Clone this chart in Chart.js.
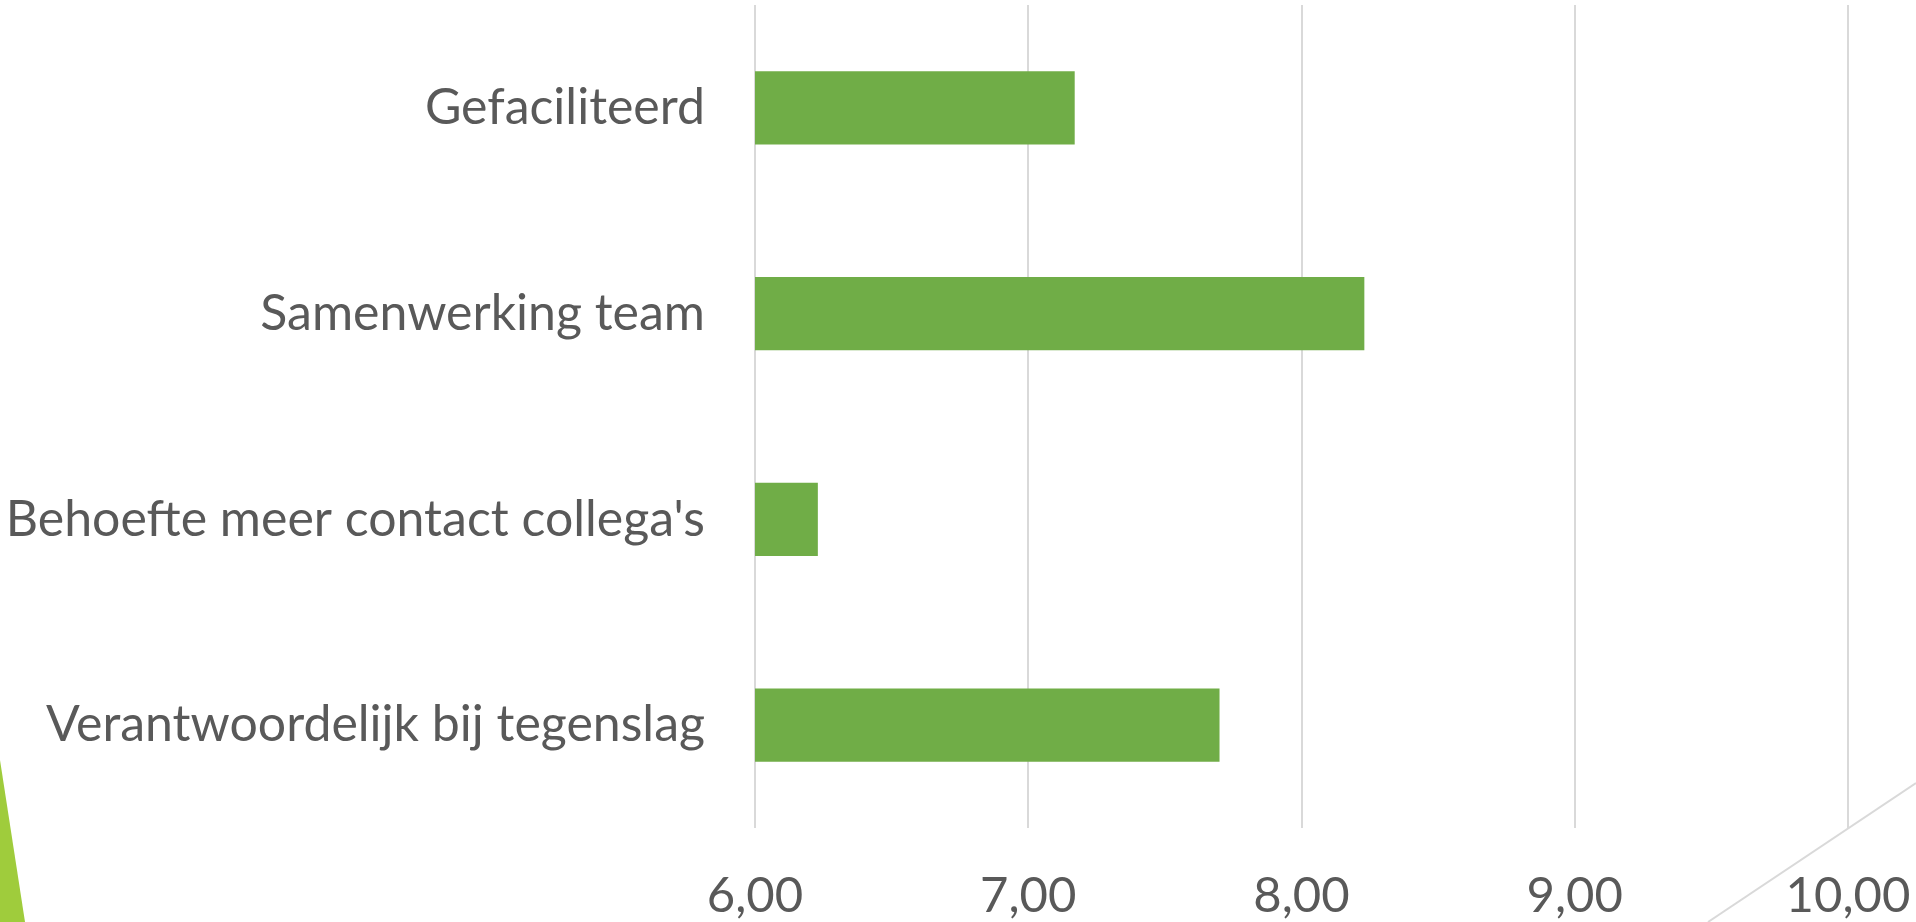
<!DOCTYPE html>
<html>
<head>
<meta charset="utf-8">
<script src="https://cdn.jsdelivr.net/npm/chart.js@4/dist/chart.umd.min.js"></script>
<style>
  html, body { margin: 0; padding: 0; background: #fff; }
  #wrap { width: 1916px; height: 922px; position: relative; }
</style>
</head>
<body>
<div id="wrap"><canvas id="grafico" width="1916" height="922"></canvas></div>
<script>
const categorieen = ['Gefaciliteerd', 'Samenwerking team', "Behoefte meer contact collega's", 'Verantwoordelijk bij tegenslag'];
const scores = [7.17, 8.23, 6.23, 7.70];
const asMin = 6;
const asMax = 10;

// slide decoration: green sliver bottom left, thin diagonal line bottom right
const decoratie = {
  id: 'decoratie',
  beforeDraw(chart) {
    const ctx = chart.ctx;
    ctx.save();
    ctx.fillStyle = '#9fcc3c';
    ctx.beginPath();
    ctx.moveTo(0, 760);
    ctx.lineTo(25, 922);
    ctx.lineTo(0, 922);
    ctx.closePath();
    ctx.fill();
    ctx.restore();
  },
  afterDraw(chart) {
    const ctx = chart.ctx;
    ctx.save();
    ctx.strokeStyle = '#d9d9d9';
    ctx.lineWidth = 2;
    ctx.beginPath();
    ctx.moveTo(1708, 922);
    ctx.lineTo(1916, 783);
    ctx.stroke();
    ctx.restore();
  }
};

const ctx = document.getElementById('grafico').getContext('2d');

new Chart(ctx, {
  type: 'bar',
  data: {
    labels: categorieen,
    datasets: [{
      data: scores,
      backgroundColor: '#70ad47',
      borderWidth: 0,
      barPercentage: 0.355,
      categoryPercentage: 1
    }]
  },
  options: {
    indexAxis: 'y',
    responsive: false,
    animation: false,
    layout: { autoPadding: false, padding: { top: 5, right: 68, left: 0, bottom: 0 } },
    plugins: {
      legend: { display: false },
      tooltip: { enabled: false }
    },
    scales: {
      x: {
        min: asMin,
        max: asMax,
        ticks: {
          stepSize: 1,
          color: '#595959',
          padding: 39,
          maxRotation: 0,
          font: { family: 'Lato', size: 49 },
          callback: (v) => v.toFixed(2).replace('.', ',')
        },
        grid: { color: '#d9d9d9', lineWidth: 2, drawTicks: false },
        border: { display: false },
        afterFit: (scale) => {
          scale.height = 94;
          scale.paddingLeft = 0;
          scale.paddingRight = 0;
        }
      },
      y: {
        ticks: {
          color: '#595959',
          padding: 50,
          font: { family: 'Lato', size: 50 }
        },
        grid: { display: false, drawTicks: false },
        border: { display: false },
        afterFit: (scale) => {
          scale.width = 755;
          scale.paddingTop = 0;
          scale.paddingBottom = 0;
        }
      }
    }
  },
  plugins: [decoratie]
});
</script>
</body>
</html>
